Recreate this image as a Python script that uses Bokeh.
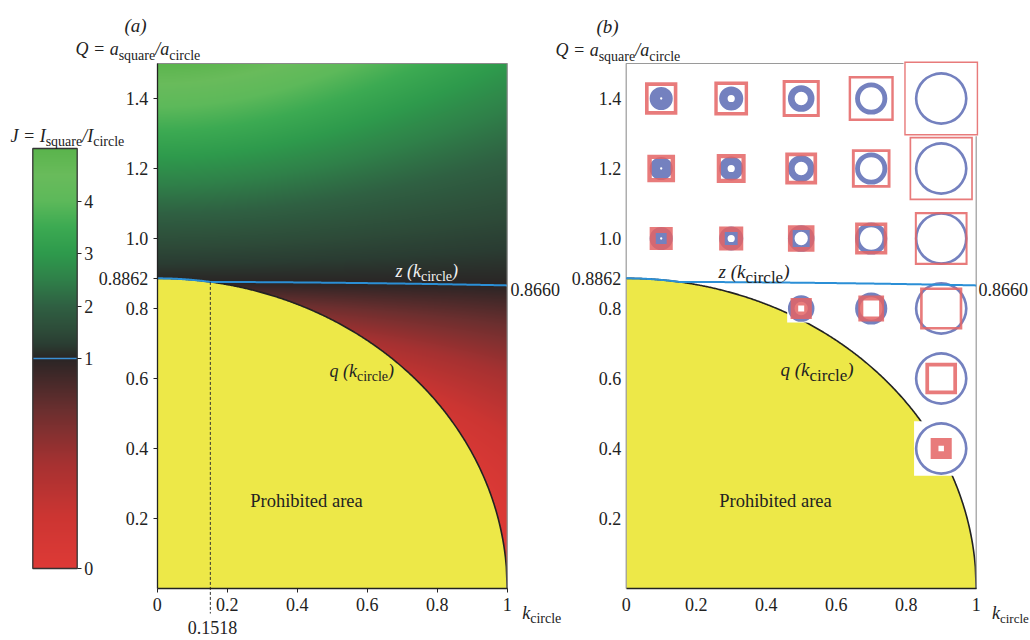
import numpy as np
from bokeh.plotting import figure
from bokeh.models import Range1d, LinearAxis, FixedTicker, Label
from bokeh.embed import file_html
from bokeh.resources import INLINE

# ---------------- chart values ----------------
K_TICKS = [0.0, 0.2, 0.4, 0.6, 0.8, 1.0]
K_TICK_LABELS = ["0", "0.2", "0.4", "0.6", "0.8", "1"]
Q_TICKS = [0.2, 0.4, 0.6, 0.8, 1.0, 1.2, 1.4]
Q_TICK_LABELS = ["0.2", "0.4", "0.6", "0.8", "1.0", "1.2", "1.4"]
Q_AT_K0 = 0.8862     # q(0) = sqrt(pi)/2, labelled on the Q axis
Q_AT_K1 = 0.8660     # z(1), labelled at the right edge
K_CROSS = 0.1518     # k where z(k) leaves the q(k) boundary
Q_MAX = 1.5

J_TICK_VALUES = [0, 1, 2, 3, 4]
J_STOPS = [0.0, 0.25, 0.5, 0.75, 1.0, 1.25, 1.5, 2.0, 2.5, 3.0, 3.5, 4.0, 4.5, 5.0]
J_COLORS = ["#de3a36", "#cc3532", "#a63131", "#6c2f2f", "#2a2525", "#2a3c32",
            "#2d4a38", "#2f6042", "#2f8049", "#2e9a4c", "#3caa52", "#5db95a",
            "#69bb5b", "#5ab44c"]

ICON_K = [0.1, 0.3, 0.5, 0.7, 0.9,
          0.1, 0.3, 0.5, 0.7, 0.9,
          0.1, 0.3, 0.5, 0.7, 0.9,
          0.5, 0.7, 0.9,
          0.9,
          0.9]
ICON_Q = [1.4, 1.4, 1.4, 1.4, 1.4,
          1.2, 1.2, 1.2, 1.2, 1.2,
          1.0, 1.0, 1.0, 1.0, 1.0,
          0.8, 0.8, 0.8,
          0.6,
          0.4]

# ---------------- layout (picture pixels) ----------------
PX = 350.0                 # pixels per unit on both axes
ORIGIN_X, ORIGIN_Y = 156.7, 588.0
W, H = 1030, 640
PAD = 0
XS = (PAD - ORIGIN_X) / PX
XE = XS + W / PX
YE = (ORIGIN_Y - PAD) / PX
YS = YE - H / PX
B_SHIFT = (625.7 - ORIGIN_X) / PX

CB_LEFT = (32.3 - ORIGIN_X) / PX
CB_RIGHT = (76.7 - ORIGIN_X) / PX
CB_PX_U = 52.5             # colour bar: u=0 at y 568, u=8 at y 148
CB_START = -((PAD + H) - 568) / CB_PX_U
CB_END = 8 + (148 - PAD) / CB_PX_U

FONT = "Liberation Serif"
TXT = "#222222"
YELLOW = "#ede848"
ZBLUE = "#2b8fd6"
ICON_BLUE = "#7481bf"
ICON_RED = "#e46464"


def sx(px):
    return (px - ORIGIN_X) / PX


def sy(py):
    return (ORIGIN_Y - py) / PX


def hex_rgb(h):
    return [int(h[i:i + 2], 16) for i in (1, 3, 5)]


CM = np.array([hex_rgb(c) for c in J_COLORS], dtype=float)


def cmap(J):
    return [np.interp(J, J_STOPS, CM[:, i]) for i in range(3)]


def to_rgba(r, g, b):
    ny, nx = r.shape
    img = np.empty((ny, nx), dtype=np.uint32)
    v = img.view(dtype=np.uint8).reshape((ny, nx, 4))
    v[..., 0] = np.round(r)
    v[..., 1] = np.round(g)
    v[..., 2] = np.round(b)
    v[..., 3] = 255
    return img


def q_of_k(k):
    return Q_AT_K0 * np.sqrt(np.clip(1 - np.asarray(k) ** 2, 0, None))


# z(k)^2 = A + B k^2 through z(1)=Q_AT_K1 and z(K_CROSS)=q(K_CROSS)
ZB = (Q_AT_K1 ** 2 - Q_AT_K0 ** 2 * (1 - K_CROSS ** 2)) / (1 - K_CROSS ** 2)
ZA = Q_AT_K1 ** 2 - ZB


def z_of_k(k):
    return np.sqrt(ZA + ZB * np.asarray(k) ** 2)


# ---------------- figure ----------------
p = figure(width=W, height=H, x_range=Range1d(XS, XE), y_range=Range1d(YS, YE),
           output_backend="svg", toolbar_location=None,
           x_axis_location=None, y_axis_location=None, min_border=0,
           outline_line_color=None, background_fill_color="white",
           border_fill_color="white")
p.xgrid.visible = False
p.ygrid.visible = False
p.extra_x_ranges = {"b": Range1d(XS - B_SHIFT, XE - B_SHIFT)}
p.extra_y_ranges = {"cb": Range1d(CB_START, CB_END)}

# ---- panel (a): heat map of J = I_square / I_circle ----
nx, ny = 350, 525
kk = (np.arange(nx) + 0.5) / nx
qq = (np.arange(ny) + 0.5) / ny * Q_MAX
Kg, Qg = np.meshgrid(kk, qq)
J = (8 * Qg ** 2 - 4 * q_of_k(Kg) ** 2) / (3 * (1 + Kg ** 2))
J = np.clip(J, 0, 5)
p.image_rgba(image=[to_rgba(*cmap(J))], x=0, y=0, dw=1, dh=Q_MAX)

KC = np.linspace(0, 1, 401)
QC = q_of_k(KC)
ZC = np.maximum(z_of_k(KC), QC)

for rng in ("default", "b"):
    p.patch(np.r_[0, KC], np.r_[0, QC], fill_color=YELLOW, line_color=None,
            x_range_name=rng)
    p.line(KC, QC, line_color="#222222", line_width=1.6, x_range_name=rng)
p.line(KC, ZC, line_color=ZBLUE, line_width=2)

p.segment(x0=[K_CROSS], y0=[q_of_k(K_CROSS)], x1=[K_CROSS], y1=[sy(613)],
          line_color="#333333", line_width=1, line_dash="3 2")

# frame lines
p.line([0, 1, 1], [Q_MAX, Q_MAX, 0], line_color="#8a8a8a", line_width=1.2)
p.line([0, 0, 1, 1], [0, Q_MAX, Q_MAX, 0], line_color="#9a9a9a", line_width=1.2,
       x_range_name="b")

# ---- colour bar ----
ncb = 420
u = (np.arange(ncb) + 0.5) / ncb * 8
Ju = np.where(u <= 4, u / 4, u - 3)
cr, cg, cbb = cmap(Ju)
p.image_rgba(image=[to_rgba(cr[:, None], cg[:, None], cbb[:, None])],
             x=CB_LEFT, y=0, dw=CB_RIGHT - CB_LEFT, dh=8, y_range_name="cb")
p.segment(x0=[CB_LEFT], y0=[4], x1=[CB_RIGHT], y1=[4], line_color="#3b8fd4",
          line_width=1.5, y_range_name="cb")
p.quad(left=[CB_LEFT], right=[CB_RIGHT], bottom=[0], top=[8], fill_color=None,
       line_color="#333333", line_width=1.3, y_range_name="cb")

# ---- panel (b): icons ----
ik = np.array(ICON_K)
iq = np.array(ICON_Q)
r = 11.5 / np.sqrt(1 - ik ** 2) / PX             # ring outer radius (equal area)
hb = np.sqrt(iq ** 2 - q_of_k(ik) ** 2)           # inner half side of square
bg = 2 * np.maximum(1, iq) * r + 1.5 / PX
p.rect(x=ik, y=iq, width=bg, height=bg, fill_color="white", line_color=None,
       x_range_name="b")
p.annulus(x=ik, y=iq, inner_radius=ik * r, outer_radius=r, fill_color=ICON_BLUE,
          line_color=None, x_range_name="b")
xs, ys = [], []
for x, y, rr, Q, b in zip(ik, iq, r, iq, hb):
    o, i = Q * rr, b * rr
    xs.append([[[x - o, x + o, x + o, x - o], [x - i, x + i, x + i, x - i]]])
    ys.append([[[y - o, y - o, y + o, y + o], [y - i, y - i, y + i, y + i]]])
p.multi_polygons(xs=xs, ys=ys, fill_color=ICON_RED, fill_alpha=0.85,
                 line_color=None, x_range_name="b")
p.line(KC, ZC, line_color=ZBLUE, line_width=2, x_range_name="b")


# ---------------- axes ----------------
def style(ax, size="18px", out=4):
    ax.major_label_text_font = FONT
    ax.major_label_text_font_size = size
    ax.major_label_text_color = TXT
    ax.axis_line_color = "#222222"
    ax.axis_line_width = 1.3
    ax.major_tick_line_color = "#222222"
    ax.major_tick_in = 0
    ax.major_tick_out = out
    ax.minor_tick_line_color = None


ax = LinearAxis(fixed_location=0, bounds=(0, 1), ticker=FixedTicker(ticks=K_TICKS),
                major_label_overrides=dict(zip(K_TICKS, K_TICK_LABELS)))
style(ax)
ax.major_label_standoff = 5
p.add_layout(ax, "below")

ay = LinearAxis(fixed_location=0, bounds=(0, Q_MAX),
                ticker=FixedTicker(ticks=Q_TICKS + [Q_AT_K0]),
                major_label_overrides={**dict(zip(Q_TICKS, Q_TICK_LABELS)),
                                       Q_AT_K0: "%.4f" % Q_AT_K0})
style(ay)
ay.major_label_standoff = 5
p.add_layout(ay, "left")

bx = LinearAxis(x_range_name="b", fixed_location=0, bounds=(0, 1),
                ticker=FixedTicker(ticks=K_TICKS),
                major_label_overrides=dict(zip(K_TICKS, K_TICK_LABELS)))
style(bx, out=0)
bx.major_label_standoff = 9
p.add_layout(bx, "below")

by = LinearAxis(x_range_name="b", fixed_location=0, bounds=(0, Q_MAX),
                ticker=FixedTicker(ticks=Q_TICKS + [Q_AT_K0]),
                major_label_overrides={**dict(zip(Q_TICKS, Q_TICK_LABELS)),
                                       Q_AT_K0: "%.4f" % Q_AT_K0})
style(by, out=0)
by.axis_line_color = None
by.major_label_standoff = 5
p.add_layout(by, "left")

cbax = LinearAxis(y_range_name="cb", fixed_location=CB_RIGHT,
                  ticker=FixedTicker(ticks=[0, 4, 5, 6, 7]),
                  major_label_overrides=dict(zip([0, 4, 5, 6, 7],
                                                 [str(v) for v in J_TICK_VALUES])))
style(cbax)
cbax.axis_line_color = None
cbax.major_label_standoff = 3
p.add_layout(cbax, "right")

# ---------------- texts ----------------
W_REG = {' ': .25, '(': .333, ')': .333, '/': .278, '=': .564, 'a': .444, 'c': .444,
         'e': .444, 'i': .278, 'l': .278, 'q': .5, 'r': .333, 's': .389, 'u': .5}
W_ITA = {' ': .25, '(': .333, ')': .333, '/': .278, '=': .675, 'Q': .722, 'J': .444,
         'I': .333, 'a': .5, 'k': .444, 'q': .5, 'z': .389}


def label(xp, basep, text, size, italic=False, color=TXT, align="left"):
    p.add_layout(Label(x=sx(xp), y=sy(basep), text=text, text_font=FONT,
                       text_font_size="%.1fpx" % size,
                       text_font_style="italic" if italic else "normal",
                       text_color=color, text_align=align,
                       text_baseline="alphabetic"))


def rich(xp, basep, pieces, color=TXT):
    for text, size, italic, dy in pieces:
        label(xp, basep + dy, text, size, italic, color)
        table = W_ITA if italic else W_REG
        xp += sum(table.get(ch, .5) for ch in text) * size


label(135, 25, "(a)", 19, True, align="center")
label(607, 26, "(b)", 19, True, align="center")

rich(10, 135, [("J = I", 18, True, 0), ("square", 14, False, 6),
               ("/I", 18, True, 0), ("circle", 14, False, 6)])
rich(75, 48, [("Q = a", 18, True, 0), ("square", 14, False, 7),
              ("/a", 18, True, 0), ("circle", 14, False, 7)])
rich(555, 49, [("Q = a", 18, True, 0), ("square", 14, False, 7),
               ("/a", 18, True, 0), ("circle", 14, False, 7)])

rich(395, 270, [("z (k", 18, True, 0), ("circle", 14, False, 6), (")", 18, True, 0)],
     color="#f2f2f2")
rich(329, 370, [("q (k", 18, True, 0), ("circle", 14, False, 6), (")", 18, True, 0)])
rich(718, 271, [("z (k", 19, True, 0), ("circle", 17, False, 6), (")", 19, True, 0)])
rich(780, 369, [("q (k", 19, True, 0), ("circle", 17, False, 6), (")", 19, True, 0)])

rich(521.7, 612, [("k", 18, True, 0), ("circle", 14, False, 6)])
rich(991.5, 612, [("k", 18, True, 0), ("circle", 13, False, 6)])

label(510, 289, "%.4f" % Q_AT_K1, 18)
label(978, 289, "%.4f" % Q_AT_K1, 18)
label(212, 627, "%.4f" % K_CROSS, 18, align="center")
label(306, 500, "Prohibited area", 18.5, align="center")
label(775, 500, "Prohibited area", 18.5, align="center")

open("out.html", "w").write(file_html(p, INLINE))
